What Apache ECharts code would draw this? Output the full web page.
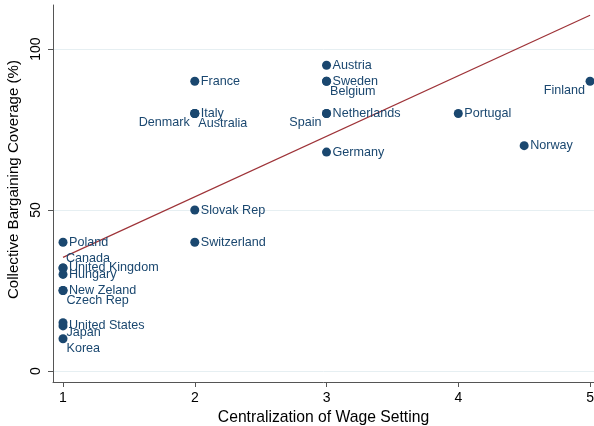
<!DOCTYPE html>
<html>
<head>
<meta charset="utf-8">
<script src="https://cdn.jsdelivr.net/npm/echarts@6/dist/echarts.min.js"></script>
<style>
  html, body { margin: 0; padding: 0; background: #fff; }
  #chart { width: 594px; height: 426px; }
</style>
</head>
<body>
<div id="chart"></div>
<script>
// data
const countries = ['Austria', 'France', 'Sweden', 'Belgium', 'Finland', 'Italy', 'Denmark', 'Australia',
    'Netherlands', 'Spain', 'Portugal', 'Germany', 'Norway', 'Slovak Rep', 'Switzerland', 'Poland',
    'Canada', 'United Kingdom', 'Hungary', 'New Zeland', 'Czech Rep', 'United States', 'Japan', 'Korea'];
const centralization = [3, 2, 3, 3, 5, 2, 2, 2, 3, 3, 4, 3, 4.5, 2, 2, 1, 1, 1, 1, 1, 1, 1, 1, 1];
const coverage = [95, 90, 90, 90, 90, 80, 80, 80, 80, 80, 80, 68, 70, 50, 40, 40, 32, 32, 30, 25, 25, 14, 15, 10];
// label clock positions (stata style)
const labelClock = [3, 3, 3, 4, 8, 3, 8, 4, 3, 8, 3, 3, 3, 3, 3, 3, 2, 3, 3, 3, 4, 3, 4, 4];
// fitted line end points
const fitX = [1, 5];
const fitY = [35.3, 110.5];
const xTicks = [1, 2, 3, 4, 5];
const yTicks = [0, 50, 100];

const navy = '#1a476f';
const font = '"Liberation Sans", Arial, sans-serif';
const half = 4.5; // half symbol size

// y range of the plot, and where 0 / 100 land in pixels
const yMin = -3.42, yMax = 113.7;
const plotTop = 5, plotBottom = 44, H = 426;
const pxPerUnit = (H - plotTop - plotBottom) / (yMax - yMin);

function labelFor(clock) {
    // offsets relative to the point centre
    const map = {
        3: [6, 0, 'left'],
        2: [3, -9, 'left'],
        4: [3.5, 10, 'left'],
        8: [-5, 9, 'right']
    };
    const m = map[clock];
    return {
        show: true,
        position: [m[0] + half, m[1] + half],
        align: m[2],
        verticalAlign: 'middle'
    };
}

const points = countries.map((c, i) => ({
    name: c,
    value: [centralization[i], coverage[i]],
    label: labelFor(labelClock[i])
}));

const chart = echarts.init(document.getElementById('chart'));
chart.setOption({
    animation: false,
    grid: [
        { left: 53, right: 0, top: plotTop, bottom: plotBottom, outerBoundsMode: 'none' },
        // second grid only for the faint lines at 0 / 50 / 100
        {
            left: 53, right: 0,
            top: plotTop + (yMax - yTicks[2]) * pxPerUnit,
            bottom: plotBottom + (yTicks[0] - yMin) * pxPerUnit,
            outerBoundsMode: 'none'
        }
    ],
    xAxis: [
        {
            type: 'value',
            min: 0.924,
            max: 5.03,
            name: 'Centralization of Wage Setting',
            nameLocation: 'middle',
            nameGap: 26,
            nameTextStyle: { fontFamily: font, fontSize: 15.7, color: '#000' },
            axisLine: { onZero: false, lineStyle: { color: '#555', width: 1 } },
            axisTick: { customValues: xTicks, length: 5, lineStyle: { color: '#555' } },
            axisLabel: { customValues: xTicks, fontFamily: font, fontSize: 14, color: '#000', margin: 9 },
            splitLine: { show: false },
            z: 2
        },
        { gridIndex: 1, type: 'value', show: false, min: 0, max: 1 }
    ],
    yAxis: [
        {
            type: 'value',
            min: yMin,
            max: yMax,
            name: 'Collective Bargaining Coverage (%)',
            nameLocation: 'middle',
            nameGap: 27,
            nameTextStyle: { fontFamily: font, fontSize: 15.1, color: '#000', padding: [0, 0, 0, 28] },
            axisLine: { show: true, onZero: false, lineStyle: { color: '#555', width: 1 } },
            axisTick: { customValues: yTicks, length: 5, lineStyle: { color: '#555' } },
            axisLabel: { customValues: yTicks, rotate: 90, fontFamily: font, fontSize: 14, color: '#000', margin: 10 },
            splitLine: { show: false },
            z: 2
        },
        {
            gridIndex: 1,
            type: 'value',
            min: yTicks[0],
            max: yTicks[2],
            interval: yTicks[1] - yTicks[0],
            axisLine: { show: false },
            axisTick: { show: false },
            axisLabel: { show: false },
            splitLine: { show: true, lineStyle: { color: '#e6eff2', width: 1 } },
            z: 0
        }
    ],
    series: [
        {
            type: 'line',
            data: fitX.map((x, i) => [x, fitY[i]]),
            symbol: 'none',
            lineStyle: { color: '#9e3338', width: 1.2 },
            z: 3
        },
        {
            type: 'scatter',
            data: points,
            symbolSize: 9,
            itemStyle: { color: navy, opacity: 1 },
            label: {
                formatter: '{b}',
                fontFamily: font,
                fontSize: 12.6,
                color: navy
            },
            labelLayout: { hideOverlap: false },
            z: 4
        }
    ]
});
</script>
</body>
</html>
